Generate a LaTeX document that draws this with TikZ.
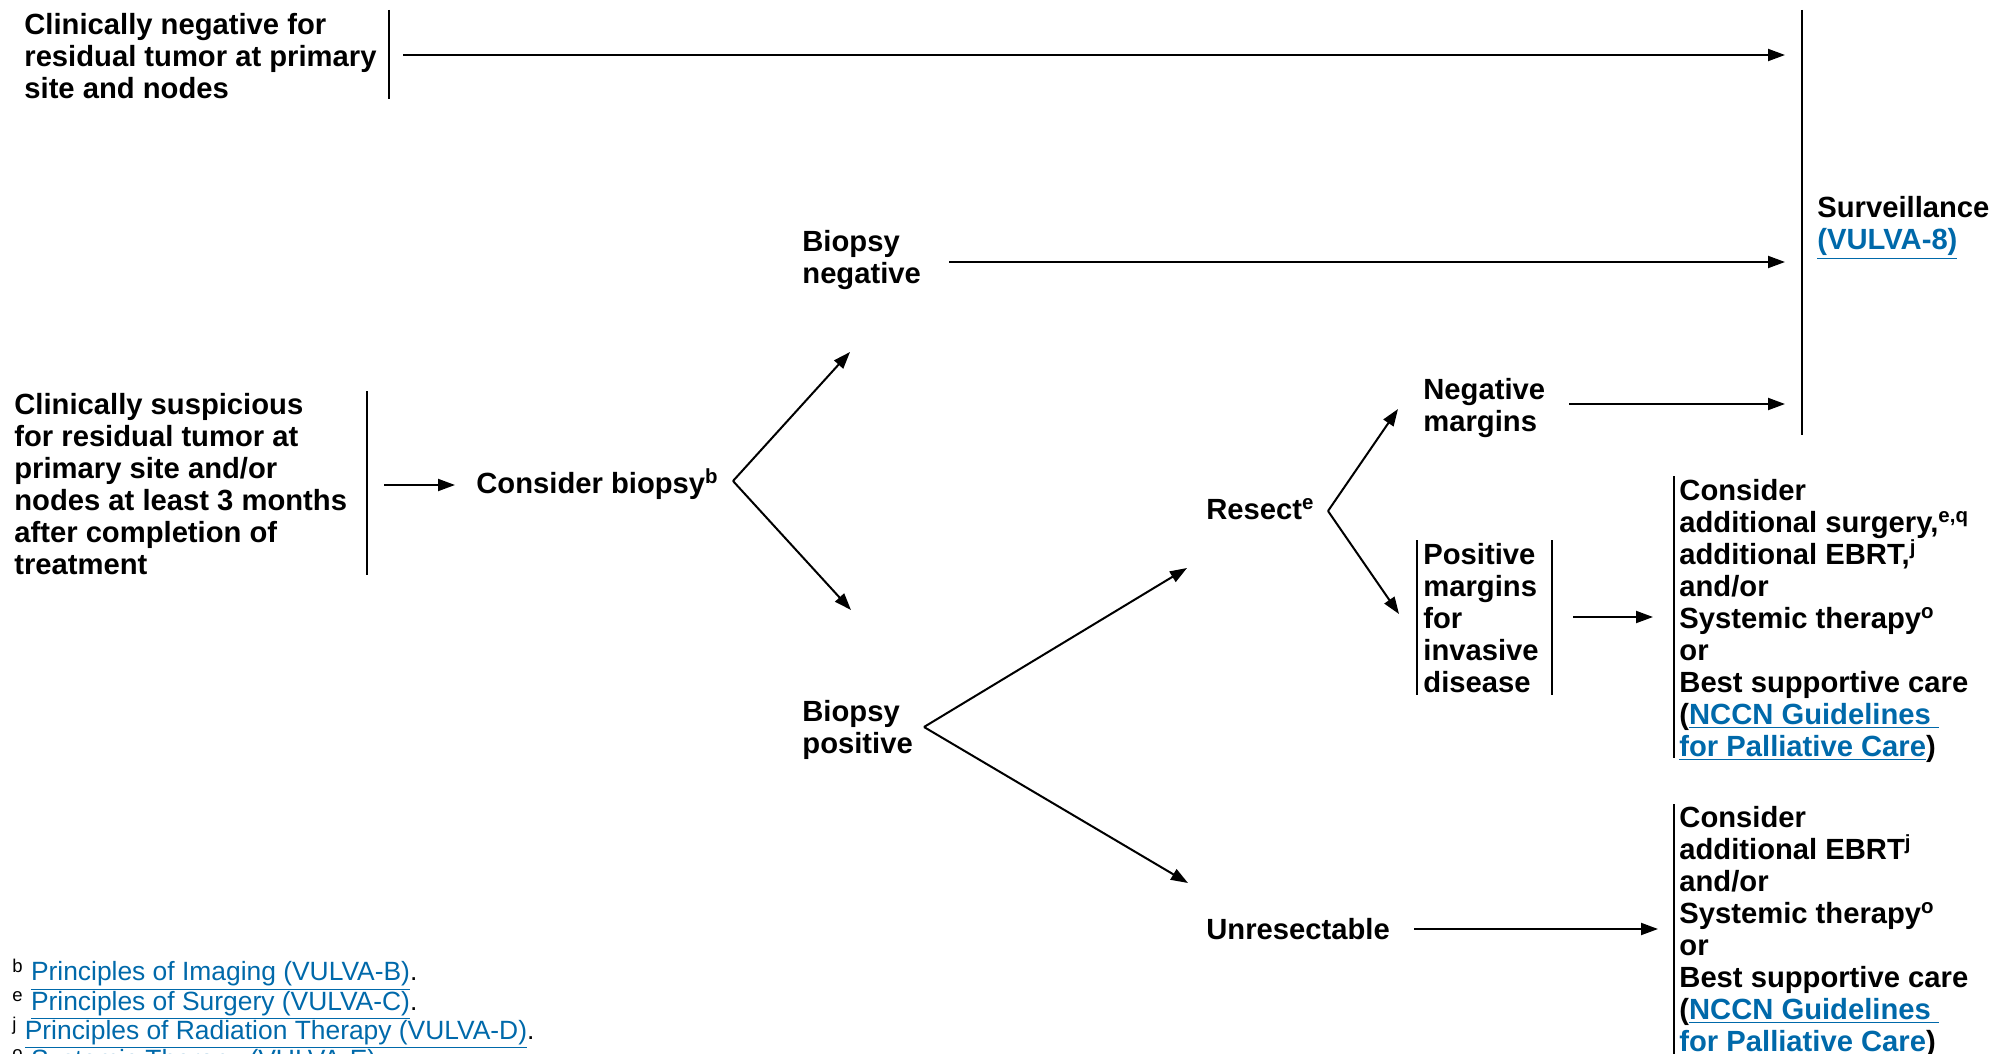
\documentclass[tikz,border=0pt]{standalone}
\usepackage{fontspec}
\setmainfont{Liberation Sans}
\usetikzlibrary{arrows.meta}
\definecolor{nccnblue}{RGB}{0,105,170}
\newcommand{\lnk}[1]{\textcolor{nccnblue}{\underline{#1}}}
\newcommand{\sups}[1]{\smash{\textsuperscript{#1}}}
\begin{document}
\begin{tikzpicture}[x=0.5pt,y=-0.5pt,
  txt/.style={anchor=north west,inner sep=0pt,align=left,font=\bfseries\fontsize{14.6pt}{16pt}\selectfont},
  foot/.style={anchor=north west,inner sep=0pt,align=left,font=\fontsize{13.2pt}{14.6pt}\selectfont},
  bar/.style={line width=1pt},
  arr/.style={line width=1pt,-{Triangle[length=8.5pt,width=6pt]}}]
\useasboundingbox (0,0) rectangle (1992,1054);
\clip (0,0) rectangle (1992,1054);

% nodes
\node[txt] (neg) at (24,12) {\strut Clinically negative for\\residual tumor at primary\\site and nodes};
\node[txt] (surv) at (1817,195) {\strut Surveillance\\\lnk{(VULVA-8)}};
\node[txt] (bneg) at (802,229) {\strut Biopsy\\negative};
\node[txt] (nmarg) at (1423,377) {\strut Negative\\margins};
\node[txt] (susp) at (14,392) {\strut Clinically suspicious\\for residual tumor at\\primary site and/or\\nodes at least 3 months\\after completion of\\treatment};
\node[txt] (cbio) at (476,471) {\strut Consider biopsy\sups{b}};
\node[txt] (bpos) at (802,699) {\strut Biopsy\\positive};
\node[txt] (resect) at (1206,497) {\strut Resect\sups{e}};
\node[txt] (pmarg) at (1423,542) {\strut Positive\\margins\\for\\invasive\\disease};
\node[txt] (box1) at (1679,478) {\strut Consider\\additional surgery,\sups{e,q}\\additional EBRT,\sups{j}\\and/or\\Systemic therapy\sups{o}\\or\\Best supportive care\\(\lnk{NCCN Guidelines }\\\lnk{for Palliative Care})};
\node[txt] (unres) at (1206,917) {\strut Unresectable};
\node[txt] (box2) at (1679,805) {\strut Consider\\additional EBRT\sups{j}\\and/or\\Systemic therapy\sups{o}\\or\\Best supportive care\\(\lnk{NCCN Guidelines }\\\lnk{for Palliative Care})};
\node[foot] (fn) at (12,960) {\strut\sups{b} \lnk{Principles of Imaging (VULVA-B)}.\\
\sups{e} \lnk{Principles of Surgery (VULVA-C)}.\\
\sups{j} \lnk{Principles of Radiation Therapy (VULVA-D)}.\\
\sups{o} \lnk{Systemic Therapy (VULVA-E)}.};

% bars
\draw[bar] (389,10) -- (389,99);
\draw[bar] (1802,10) -- (1802,435);
\draw[bar] (367,391) -- (367,575);
\draw[bar] (1417,540) -- (1417,695);
\draw[bar] (1552,540) -- (1552,695);
\draw[bar] (1674,476) -- (1674,758);
\draw[bar] (1674,804) -- (1674,1060);

% connector end points
\coordinate (negout) at (403,55);
\coordinate (survin1) at (1785,55);
\coordinate (bnegout) at (949,262);
\coordinate (survin2) at (1785,262);
\coordinate (nmargout) at (1569,404);
\coordinate (survin3) at (1785,404);
\coordinate (suspout) at (384,485);
\coordinate (cbioin) at (455,485);
\coordinate (cbioout) at (733,481);
\coordinate (bnegin) at (850,352);
\coordinate (bposin) at (851,610);
\coordinate (bposout) at (924,727);
\coordinate (resectin) at (1187,568);
\coordinate (unresin) at (1188,883);
\coordinate (resectout) at (1328,511);
\coordinate (nmargin) at (1398,409);
\coordinate (pmargin) at (1399,614);
\coordinate (pmargout) at (1573,617);
\coordinate (box1in) at (1653,617);
\coordinate (unresout) at (1414,929);
\coordinate (box2in) at (1658,929);

% connectors
\draw[arr] (negout) -- (survin1);
\draw[arr] (bnegout) -- (survin2);
\draw[arr] (nmargout) -- (survin3);
\draw[arr] (suspout) -- (cbioin);
\draw[arr] (cbioout) -- (bnegin);
\draw[arr] (cbioout) -- (bposin);
\draw[arr] (bposout) -- (resectin);
\draw[arr] (bposout) -- (unresin);
\draw[arr] (resectout) -- (nmargin);
\draw[arr] (resectout) -- (pmargin);
\draw[arr] (pmargout) -- (box1in);
\draw[arr] (unresout) -- (box2in);
\end{tikzpicture}
\end{document}
